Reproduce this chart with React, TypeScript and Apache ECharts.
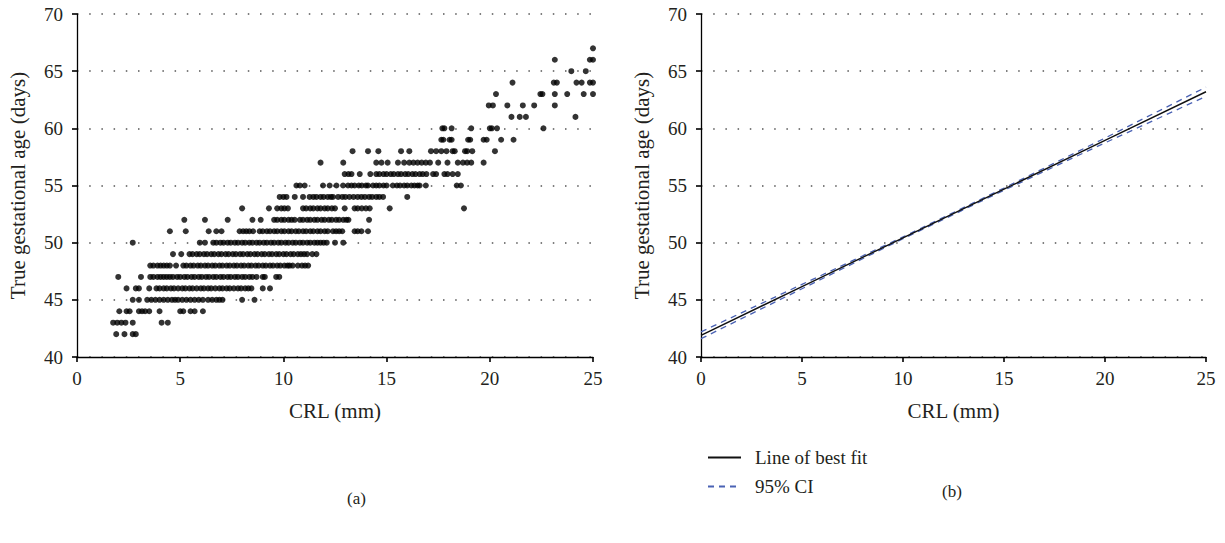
import React, { useEffect, useRef } from "react";
import * as echarts from "echarts";

// ---- Panel (a): scatter, CRL (mm) read per gestational day ----
const gestDays = [42, 43, 44, 45, 46, 47, 48, 49, 50, 51, 52, 53, 54, 55, 56, 57, 58, 59, 60, 61, 62, 63, 64, 65, 66, 67];

const crlByDay: number[][] = [
  // 42
  [1.9, 2.3, 2.7, 2.85],
  // 43
  [1.75, 1.95, 2.15, 2.35, 2.7, 4.1, 4.4],
  // 44
  [2.05, 2.4, 2.55, 3.0, 3.15, 3.3, 3.5, 4.0, 5.0, 5.15, 5.5, 5.7, 6.1],
  // 45
  [2.7, 3.0, 3.4, 3.6, 3.8, 4.0, 4.2, 4.4, 4.6, 4.75, 4.9, 5.1, 5.3, 5.5, 5.7, 5.9, 6.1, 6.35, 6.55, 6.75, 6.9, 7.05, 8.0, 8.6],
  // 46
  [2.4, 2.85, 3.0, 3.5, 3.85, 4.0, 4.2, 4.35, 4.55, 4.7, 4.9, 5.1, 5.25, 5.45, 5.6, 5.8, 6.0, 6.15, 6.35, 6.5, 6.7, 6.9, 7.05, 7.25, 7.4, 7.6, 7.8, 7.95, 8.15, 8.3, 8.45, 9.0, 9.35],
  // 47
  [2.0, 3.1, 3.55, 3.7, 3.9, 4.05, 4.2, 4.35, 4.5, 4.65, 4.85, 5.0, 5.2, 5.35, 5.55, 5.7, 5.9, 6.05, 6.25, 6.4, 6.6, 6.75, 6.95, 7.1, 7.3, 7.45, 7.65, 7.8, 8.0, 8.15, 8.35, 8.5, 8.7, 9.0, 9.1, 9.65, 9.8],
  // 48
  [3.55, 3.7, 3.9, 4.05, 4.2, 4.35, 4.5, 4.8, 5.15, 5.3, 5.5, 5.65, 5.85, 6.0, 6.2, 6.35, 6.55, 6.7, 6.9, 7.05, 7.25, 7.4, 7.6, 7.75, 7.95, 8.1, 8.3, 8.45, 8.65, 8.8, 9.0, 9.15, 9.35, 9.5, 9.7, 9.85, 10.05, 10.2, 10.3, 10.45, 10.7, 10.9, 11.05, 11.2],
  // 49
  [4.65, 5.05, 5.45, 5.6, 5.8, 5.95, 6.15, 6.3, 6.5, 6.65, 6.85, 7.0, 7.2, 7.35, 7.55, 7.7, 7.9, 8.05, 8.25, 8.4, 8.6, 8.75, 8.95, 9.1, 9.3, 9.45, 9.65, 9.8, 10.0, 10.15, 10.35, 10.5, 10.7, 10.85, 11.0, 11.15, 11.4, 11.6],
  // 50
  [2.7, 5.95, 6.2, 6.6, 6.75, 6.95, 7.1, 7.3, 7.45, 7.65, 7.8, 8.0, 8.15, 8.35, 8.5, 8.7, 8.85, 9.05, 9.2, 9.4, 9.55, 9.75, 9.9, 10.1, 10.25, 10.45, 10.6, 10.8, 10.95, 11.15, 11.3, 11.5, 11.65, 11.8, 11.95, 12.1, 12.5, 12.9],
  // 51
  [4.5, 5.27, 6.38, 6.75, 7.0, 7.88, 8.05, 8.2, 8.35, 8.53, 8.85, 9.0, 9.2, 9.35, 9.55, 9.7, 9.9, 10.05, 10.25, 10.4, 10.6, 10.75, 10.95, 11.1, 11.3, 11.45, 11.65, 11.8, 12.0, 12.15, 12.4, 12.55, 12.7, 12.85, 13.45, 13.6, 13.78, 14.1],
  // 52
  [5.2, 6.2, 7.3, 8.5, 8.9, 9.55, 9.7, 9.9, 10.05, 10.25, 10.4, 10.55, 10.8, 10.95, 11.15, 11.3, 11.5, 11.65, 11.85, 12.0, 12.2, 12.35, 12.55, 12.7, 12.9, 13.05, 13.15, 14.15],
  // 53
  [8.0, 9.3, 9.7, 9.9, 10.05, 10.22, 10.95, 11.1, 11.3, 11.45, 11.65, 11.8, 12.0, 12.15, 12.35, 12.5, 12.97, 13.45, 13.6, 13.8, 14.0, 14.18, 15.15, 18.75],
  // 54
  [9.82, 10.0, 10.15, 10.55, 10.95, 11.27, 11.45, 11.6, 11.8, 11.95, 12.15, 12.3, 12.4, 12.65, 12.85, 13.0, 13.2, 13.4, 13.6, 13.78, 13.95, 14.15, 14.3, 14.5, 14.65, 14.83, 16.0],
  // 55
  [10.63, 10.8, 11.03, 11.92, 12.24, 12.57, 12.89, 13.13, 13.3, 13.45, 13.65, 13.8, 14.0, 14.1, 14.34, 14.5, 14.65, 14.85, 15.0, 15.3, 15.5, 15.65, 15.85, 16.0, 16.2, 16.35, 16.5, 16.6, 16.9, 18.4, 18.6],
  // 56
  [12.97, 13.15, 13.3, 13.7, 14.21, 14.5, 14.65, 14.85, 15.0, 15.2, 15.35, 15.55, 15.7, 15.9, 16.05, 16.25, 16.4, 16.6, 16.75, 16.93, 17.25, 17.4, 17.8, 17.95, 18.2, 18.45],
  // 57
  [11.8, 12.9, 14.5, 14.75, 15.05, 15.55, 15.85, 16.1, 16.3, 16.5, 16.7, 16.9, 17.1, 17.5, 17.95, 18.45, 18.7, 18.9, 19.1, 19.7],
  // 58
  [13.35, 14.1, 14.6, 15.7, 16.1, 17.15, 17.4, 17.65, 17.9, 18.2, 18.3, 18.8, 18.9, 19.15, 20.25],
  // 59
  [17.65, 17.75, 18.05, 18.15, 18.95, 19.05, 19.7, 19.85, 20.55, 21.15],
  // 60
  [17.7, 17.8, 18.15, 19.1, 20.0, 20.1, 20.35, 22.6],
  // 61
  [21.05, 21.45, 21.75, 24.15],
  // 62
  [19.95, 20.15, 20.85, 21.6, 22.15, 23.15],
  // 63
  [20.3, 22.45, 22.55, 23.15, 23.75, 24.55, 25.0],
  // 64
  [21.1, 23.1, 23.25, 24.2, 24.45, 24.85, 25.0],
  // 65
  [23.95, 24.65],
  // 66
  [23.15, 24.85, 25.0],
  // 67
  [25.0],
];

// ---- Panel (b): regression line and 95% CI ----
const fitX = [0, 5, 10, 15, 20, 25];
const fitY = [41.9, 46.16, 50.42, 54.68, 58.94, 63.2];
const ciUpper = [42.2, 46.35, 50.5, 54.78, 59.15, 63.6];
const ciLower = [41.6, 45.97, 50.34, 54.58, 58.73, 62.8];

const xTicks = [0, 5, 10, 15, 20, 25];
const yTicks = [40, 45, 50, 55, 60, 65, 70];

const FONT = "'Liberation Serif', 'Times New Roman', serif";
const TXT = "#231f20";
const CI_COLOR = "#4a62b4";

function makeXAxis(gridIndex: number) {
  return {
    type: "value" as const,
    gridIndex,
    min: xTicks[0],
    max: xTicks[xTicks.length - 1],
    interval: 5,
    name: "CRL (mm)",
    nameLocation: "middle" as const,
    nameGap: 43,
    nameTextStyle: { fontFamily: FONT, fontSize: 21, color: TXT },
    axisLine: { onZero: false, lineStyle: { color: "#000", width: 1.3 } },
    axisTick: { show: true, inside: false, length: 5, lineStyle: { color: "#000", width: 1.6 } },
    axisLabel: { margin: 12, fontFamily: FONT, fontSize: 19, color: TXT },
    splitLine: { show: false },
  };
}

function makeYAxis(gridIndex: number) {
  return {
    type: "value" as const,
    gridIndex,
    min: yTicks[0],
    max: yTicks[yTicks.length - 1],
    interval: 5,
    name: "True gestational age (days)",
    nameLocation: "middle" as const,
    nameGap: 49,
    nameTextStyle: { fontFamily: FONT, fontSize: 21, color: TXT },
    axisLine: { onZero: false, lineStyle: { color: "#000", width: 1.3 } },
    axisTick: { show: true, inside: false, length: 5, lineStyle: { color: "#000", width: 1.6 } },
    axisLabel: { margin: 14, fontFamily: FONT, fontSize: 19, color: TXT },
    splitLine: { show: true, lineStyle: { color: "#555", width: 1.5, type: [1.5, 10.7] } },
  };
}

export default function App() {
  const ref = useRef<HTMLDivElement>(null);

  useEffect(() => {
    if (!ref.current) return;
    const chart = echarts.init(ref.current, undefined, { renderer: "svg" });

    const scatterData: number[][] = [];
    gestDays.forEach((d, i) => {
      crlByDay[i].forEach((x) => scatterData.push([x, d]));
    });
    const pairs = (ys: number[]) => fitX.map((x, i) => [x, ys[i]]);

    chart.setOption({
      animation: false,
      backgroundColor: "#fff",
      grid: [
        { left: 77, top: 14, width: 516, height: 343 },
        { left: 701, top: 14, width: 505, height: 343 },
      ],
      xAxis: [makeXAxis(0), makeXAxis(1)],
      yAxis: [makeYAxis(0), makeYAxis(1)],
      legend: {
        data: ["Line of best fit", "95% CI"],
        orient: "vertical",
        left: 702,
        top: 443,
        itemWidth: 33,
        itemHeight: 14,
        itemGap: 10,
        itemStyle: { opacity: 0 },
        textStyle: { fontFamily: FONT, fontSize: 19, color: TXT, padding: [0, 0, 0, 9] },
      },
      series: [
        {
          name: "CRL vs age",
          type: "scatter",
          xAxisIndex: 0,
          yAxisIndex: 0,
          symbol: "circle",
          symbolSize: 6,
          itemStyle: { color: "#000" },
          data: scatterData,
        },
        {
          name: "95% CI",
          type: "line",
          xAxisIndex: 1,
          yAxisIndex: 1,
          symbol: "none",
          lineStyle: { color: CI_COLOR, width: 1.3, type: [6, 5] },
          itemStyle: { color: CI_COLOR },
          data: pairs(ciUpper),
        },
        {
          name: "95% CI",
          type: "line",
          xAxisIndex: 1,
          yAxisIndex: 1,
          symbol: "none",
          lineStyle: { color: CI_COLOR, width: 1.3, type: [6, 5] },
          itemStyle: { color: CI_COLOR },
          data: pairs(ciLower),
        },
        {
          name: "Line of best fit",
          type: "line",
          xAxisIndex: 1,
          yAxisIndex: 1,
          symbol: "none",
          lineStyle: { color: "#111", width: 1.4, type: "solid" },
          itemStyle: { color: "#111" },
          data: pairs(fitY),
          z: 3,
        },
      ],
      graphic: [
        {
          type: "text",
          left: 347,
          top: 490,
          style: { text: "(a)", fontFamily: FONT, fontSize: 17, fill: TXT },
        },
        {
          type: "text",
          left: 942,
          top: 483,
          style: { text: "(b)", fontFamily: FONT, fontSize: 17, fill: TXT },
        },
      ],
    });

    return () => chart.dispose();
  }, []);

  return (
    <div
      ref={ref}
      style={{ position: "fixed", left: 0, top: 0, width: 1225, height: 543, background: "#fff" }}
    />
  );
}
